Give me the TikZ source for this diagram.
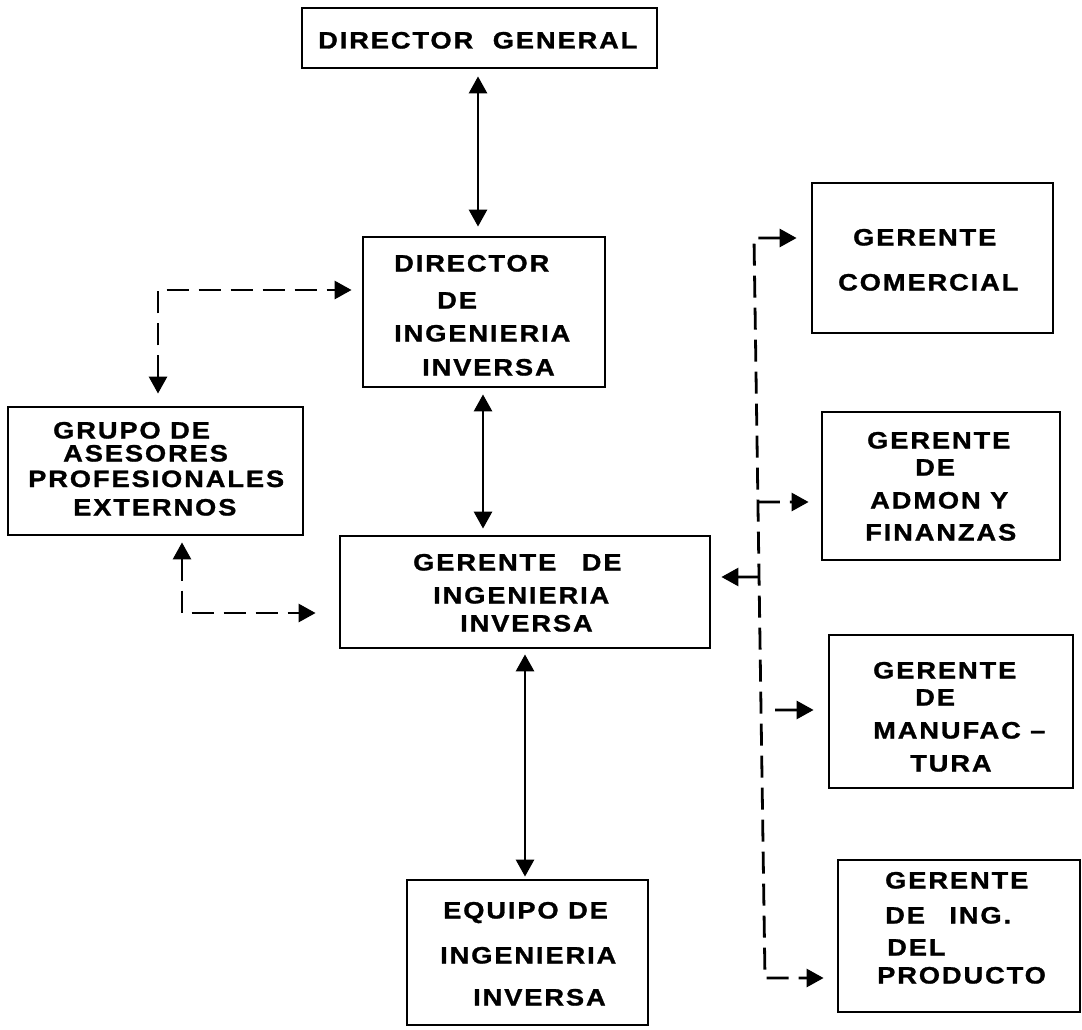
\documentclass[tikz,border=0pt]{standalone}
\usepackage{fontspec}
\newfontfamily\orgfont[LetterSpace=8, FakeStretch=1.15, FakeBold=1.2]{Liberation Sans Bold}
\usetikzlibrary{arrows.meta,calc}

\tikzset{
  box/.style={draw, line width=2.8pt, rectangle, inner sep=0pt},
  lbl/.style={anchor=base west, inner sep=0pt,
    font=\orgfont\fontsize{23.7pt}{24pt}\selectfont},
  tipA/.tip={Triangle[length=17pt,width=18pt]},
  link/.style={line width=2.8pt, tipA-tipA},
  dlink/.style={line width=2.8pt, dash pattern=on 22pt off 10pt},
}

\begin{document}
\begin{tikzpicture}[x=1pt, y=-1pt]
\useasboundingbox (0,0) rectangle (1082,1030);

% --- boxes ---
\node[box, minimum width=355pt, minimum height=60pt]  (dg)    at (479.5,38)  {};
\node[box, minimum width=242pt, minimum height=150pt] (ddi)   at (484,312)   {};
\node[box, minimum width=295pt, minimum height=128pt] (grupo) at (155.5,471) {};
\node[box, minimum width=370pt, minimum height=112pt] (ger)   at (525,592)   {};
\node[box, minimum width=241pt, minimum height=145pt] (eq)    at (527.5,952.5) {};
\node[box, minimum width=241pt, minimum height=150pt] (com)   at (932.5,258) {};
\node[box, minimum width=238pt, minimum height=148pt] (adm)   at (941,486)   {};
\node[box, minimum width=244pt, minimum height=153pt] (man)   at (951,711.5) {};
\node[box, minimum width=242pt, minimum height=152pt] (ing)   at (959,936)   {};

% --- box texts (baselines) ---
\node[lbl] (dg1) at (318,48.5) {DIRECTOR\hspace{10pt} GENERAL};

\node[lbl] (ddi1) at (394,271.5) {DIRECTOR};
\node[lbl] (ddi2) at (437,308.5) {DE};
\node[lbl] (ddi3) at (394,341.5) {INGENIERIA};
\node[lbl] (ddi4) at (422,375.5) {INVERSA};

\node[lbl] (gr1) at (53,438.5) {GRUPO DE};
\node[lbl] (gr2) at (63,461.5) {ASESORES};
\node[lbl] (gr3) at (28,487) {PROFESIONALES};
\node[lbl] (gr4) at (73,515.5) {EXTERNOS};

\node[lbl] (ger1) at (413,570.5) {GERENTE\hspace{16pt} DE};
\node[lbl] (ger2) at (433,603.5) {INGENIERIA};
\node[lbl] (ger3) at (460,631.5) {INVERSA};

\node[lbl] (eq1) at (443,918.5) {EQUIPO DE};
\node[lbl] (eq2) at (440,963.5) {INGENIERIA};
\node[lbl] (eq3) at (473,1005.5) {INVERSA};

\node[lbl] (com1) at (853,245.5) {GERENTE};
\node[lbl] (com2) at (838,290.5) {COMERCIAL};

\node[lbl] (adm1) at (867,448.5) {GERENTE};
\node[lbl] (adm2) at (915,475.5) {DE};
\node[lbl] (adm3) at (870,508.5) {ADMON Y};
\node[lbl] (adm4) at (865,540.5) {FINANZAS};

\node[lbl] (man1) at (873,678.5) {GERENTE};
\node[lbl] (man2) at (915,705.5) {DE};
\node[lbl] (man3) at (873,738.5) {MANUFAC –};
\node[lbl] (man4) at (910,771.5) {TURA};

\node[lbl] (ing1) at (885,888.5) {GERENTE};
\node[lbl] (ing2) at (885,923.5) {DE\hspace{15pt} ING.};
\node[lbl] (ing3) at (887,955.5) {DEL};
\node[lbl] (ing4) at (877,983.5) {PRODUCTO};

% --- solid two-way links down the main line ---
\draw[link, shorten <=7pt, shorten >=9pt] ([xshift=-1.5pt]dg.south) -- ([xshift=-6pt]ddi.north);
\draw[link, shorten <=6pt, shorten >=6pt] ([xshift=-1pt]ddi.south) -- ([xshift=-42pt]ger.north);
\draw[link, shorten <=5pt, shorten >=2pt] (ger.south) -- ([xshift=-2.5pt]eq.north);

% --- dashed links with the external advisers ---
\draw[dlink, tipA-tipA, shorten <=12pt, shorten >=10pt]
  ([xshift=2.5pt]grupo.north) |- ([yshift=22pt]ddi.west);
\draw[dlink, tipA-tipA, shorten <=6pt, shorten >=23pt]
  ([xshift=26.5pt]grupo.south) |- ([yshift=-21pt]ger.west);

% --- dashed trunk to the other managers (hand-drawn, slightly leaning) ---
\coordinate (comin) at ([yshift=20pt]com.west);
\coordinate (ingin) at ([yshift=-42pt]ing.west);
\coordinate (ttop) at (754,238);
\coordinate (tbot) at (765,978);
\coordinate (admin) at ([yshift=-16pt]adm.west);
\coordinate (manin) at ([yshift=1.5pt]man.west);
\coordinate (gerin) at ([yshift=15pt]ger.east);
\coordinate (tadm) at ($(ttop)!0.3568!(tbot)$);
\coordinate (tger) at ($(ttop)!0.4581!(tbot)$);
\coordinate (tman) at ($(ttop)!0.6378!(tbot)$);

\draw[dlink, tipA-tipA, shorten <=14pt, shorten >=13pt]
  (comin) -- (ttop) -- (tbot) -- (ingin);
\draw[dlink, -tipA, shorten >=12pt] (tadm) -- (admin);
\draw[dlink, -tipA, shorten <=14pt, shorten >=14pt] (tman) -- (manin);
\draw[dlink, -tipA, shorten >=10pt] (tger) -- (gerin);
\end{tikzpicture}
\end{document}
